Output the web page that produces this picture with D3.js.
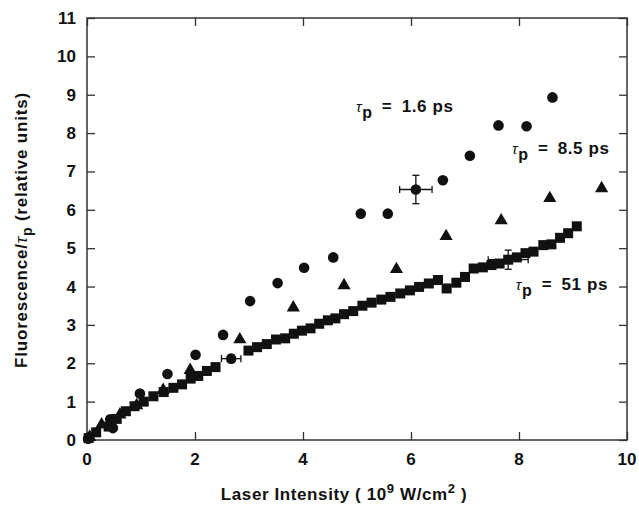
<!DOCTYPE html>
<html>
<head>
<meta charset="utf-8">
<script src="https://cdn.jsdelivr.net/npm/d3@7"></script>
<style>
  body { margin: 0; background: #fff; }
  text { font-family: "Liberation Sans", Arial, sans-serif; font-weight: bold; fill: #111; }
</style>
</head>
<body>
<svg id="chart" width="639" height="505"></svg>
<script>
// tau_p = 1.6 ps (circles)
const circles16 = [
  [0.02, 0.03], [0.43, 0.54], [0.48, 0.31], [0.98, 1.21], [1.49, 1.72], [2.01, 2.22],
  [2.52, 2.74], [3.02, 3.62], [3.53, 4.09], [4.02, 4.49], [4.56, 4.76], [5.07, 5.9],
  [5.57, 5.9], [6.09, 6.53], [6.59, 6.77], [7.09, 7.41], [7.62, 8.2], [8.14, 8.18], [8.62, 8.93]
];
// tau_p = 8.5 ps (triangles)
const triangles85 = [
  [0.05, 0.08], [0.27, 0.4], [0.61, 0.66], [0.92, 0.9], [1.41, 1.3], [1.91, 1.82],
  [2.83, 2.62], [3.82, 3.45], [4.76, 4.03], [5.73, 4.45], [6.65, 5.31], [7.67, 5.72],
  [8.57, 6.3], [9.53, 6.56]
];
// tau_p = 51 ps (squares)
const squares51 = [
  [0.03, 0.05], [0.17, 0.2], [0.4, 0.35], [0.55, 0.55], [0.72, 0.75], [0.88, 0.88],
  [1.05, 1.0], [1.23, 1.14], [1.42, 1.25], [1.6, 1.36], [1.76, 1.45], [1.92, 1.6],
  [2.06, 1.67], [2.22, 1.8], [2.38, 1.9], [2.99, 2.33], [3.15, 2.42], [3.33, 2.5],
  [3.5, 2.62], [3.67, 2.65], [3.83, 2.77], [3.98, 2.85], [4.14, 2.91], [4.3, 3.03],
  [4.46, 3.12], [4.6, 3.17], [4.76, 3.28], [4.93, 3.36], [5.1, 3.5], [5.27, 3.58],
  [5.45, 3.66], [5.62, 3.73], [5.8, 3.82], [5.98, 3.9], [6.15, 3.99], [6.33, 4.08],
  [6.5, 4.17], [6.66, 3.95], [6.84, 4.1], [7.0, 4.25], [7.16, 4.47], [7.33, 4.5],
  [7.49, 4.56], [7.64, 4.6], [7.8, 4.7], [7.96, 4.76], [8.12, 4.87], [8.27, 4.91],
  [8.45, 5.08], [8.6, 5.1], [8.76, 5.27], [8.91, 5.39], [9.07, 5.57]
];
// point with its own marker near x = 2.7
const roundPoint = [[2.67, 2.12]];
// error bars: x, y, x-error, y-error
const errorBars = [
  [6.09, 6.53, 0.3, 0.37],
  [7.8, 4.7, 0.37, 0.25],
  [2.67, 2.12, 0.18, 0.1]
];
const xTicks = [0, 2, 4, 6, 8, 10];
const yTicks = [0, 1, 2, 3, 4, 5, 6, 7, 8, 9, 10, 11];
const labels = [
  { value: "1.6", x: 4.98, y: 8.55 },
  { value: "8.5", x: 7.87, y: 7.45 },
  { value: "51", x: 7.94, y: 3.9 }
];

const svg = d3.select("#chart");
const mLeft = 87, mRight = 627, mTop = 18, mBottom = 440;
const x = d3.scaleLinear().domain([0, 10]).range([mLeft, mRight]);
const y = d3.scaleLinear().domain([0, 11]).range([mBottom, mTop]);

// frame
svg.append("rect")
  .attr("x", mLeft).attr("y", mTop)
  .attr("width", mRight - mLeft).attr("height", mBottom - mTop)
  .attr("fill", "none").attr("stroke", "#333").attr("stroke-width", 1.5);

// axes, ticks pointing inside
svg.append("g")
  .attr("transform", `translate(0,${mBottom})`)
  .call(d3.axisTop(x).tickValues(xTicks).tickSize(8).tickFormat(""))
  .call(g => g.select(".domain").remove());
svg.append("g")
  .attr("transform", `translate(0,${mTop})`)
  .call(d3.axisBottom(x).tickValues(xTicks).tickSize(8).tickFormat(""))
  .call(g => g.select(".domain").remove());
svg.append("g")
  .attr("transform", `translate(${mLeft},0)`)
  .call(d3.axisRight(y).tickValues(yTicks).tickSize(8).tickFormat(""))
  .call(g => g.select(".domain").remove());
svg.append("g")
  .attr("transform", `translate(${mRight},0)`)
  .call(d3.axisLeft(y).tickValues(yTicks).tickSize(8).tickFormat(""))
  .call(g => g.select(".domain").remove());
svg.selectAll(".tick line").attr("stroke", "#333").attr("stroke-width", 1.3);

// tick labels
svg.append("g").selectAll("text")
  .data(xTicks).enter().append("text")
  .attr("x", d => x(d)).attr("y", mBottom + 25)
  .attr("text-anchor", "middle").attr("font-size", 17)
  .text(d => d);
svg.append("g").selectAll("text")
  .data(yTicks).enter().append("text")
  .attr("x", mLeft - 11).attr("y", d => y(d) + 6)
  .attr("text-anchor", "end").attr("font-size", 17)
  .text(d => d);

// axis titles
const xt = svg.append("text")
  .attr("x", 344).attr("y", 500)
  .attr("text-anchor", "middle").attr("font-size", 17)
  .attr("letter-spacing", 0.6);
xt.append("tspan").text("Laser Intensity ( 10");
xt.append("tspan").attr("dy", -7).attr("font-size", 13).text("9");
xt.append("tspan").attr("dy", 7).text(" W/cm");
xt.append("tspan").attr("dy", -7).attr("font-size", 13).text("2");
xt.append("tspan").attr("dy", 7).text(" )");

const yt = svg.append("text")
  .attr("transform", "translate(27,230) rotate(-90)")
  .attr("text-anchor", "middle").attr("font-size", 17)
  .attr("letter-spacing", 0.8);
yt.append("tspan").text("Fluorescence/");
yt.append("tspan").attr("font-style", "italic").attr("font-weight", "normal").text("τ");
yt.append("tspan").attr("dy", 5).attr("font-size", 14).text("p");
yt.append("tspan").attr("dy", -5).text("  (relative units)");

// error bars
const eb = svg.append("g").attr("stroke", "#111").attr("stroke-width", 1.3);
errorBars.forEach(([ex, ey, dx, dy]) => {
  eb.append("line").attr("x1", x(ex - dx)).attr("x2", x(ex + dx)).attr("y1", y(ey)).attr("y2", y(ey));
  eb.append("line").attr("x1", x(ex - dx)).attr("x2", x(ex - dx)).attr("y1", y(ey) - 3.5).attr("y2", y(ey) + 3.5);
  eb.append("line").attr("x1", x(ex + dx)).attr("x2", x(ex + dx)).attr("y1", y(ey) - 3.5).attr("y2", y(ey) + 3.5);
  eb.append("line").attr("x1", x(ex)).attr("x2", x(ex)).attr("y1", y(ey - dy)).attr("y2", y(ey + dy));
  eb.append("line").attr("x1", x(ex) - 3.5).attr("x2", x(ex) + 3.5).attr("y1", y(ey - dy)).attr("y2", y(ey - dy));
  eb.append("line").attr("x1", x(ex) - 3.5).attr("x2", x(ex) + 3.5).attr("y1", y(ey + dy)).attr("y2", y(ey + dy));
});

// markers
svg.append("g").selectAll("rect")
  .data(squares51).enter().append("rect")
  .attr("x", d => x(d[0]) - 5).attr("y", d => y(d[1]) - 5)
  .attr("width", 10).attr("height", 10).attr("fill", "#111");

const tri = d3.symbol().type(d3.symbolTriangle).size(75);
svg.append("g").selectAll("path")
  .data(triangles85).enter().append("path")
  .attr("d", tri)
  .attr("transform", d => `translate(${x(d[0])},${y(d[1])})`)
  .attr("fill", "#111");

svg.append("g").selectAll("circle")
  .data(circles16.concat(roundPoint)).enter().append("circle")
  .attr("cx", d => x(d[0])).attr("cy", d => y(d[1]))
  .attr("r", 5.3).attr("fill", "#111");

// series labels
labels.forEach(l => {
  const t = svg.append("text").attr("x", x(l.x)).attr("y", y(l.y)).attr("font-size", 17)
    .attr("letter-spacing", 0.6);
  t.append("tspan").attr("font-style", "italic").attr("font-weight", "normal").attr("font-size", 15).text("τ");
  t.append("tspan").attr("dy", 6).attr("font-size", 16).text("p");
  t.append("tspan").attr("dy", -6).text(` \u2009=\u2009 ${l.value} ps`);
});
</script>
</body>
</html>
